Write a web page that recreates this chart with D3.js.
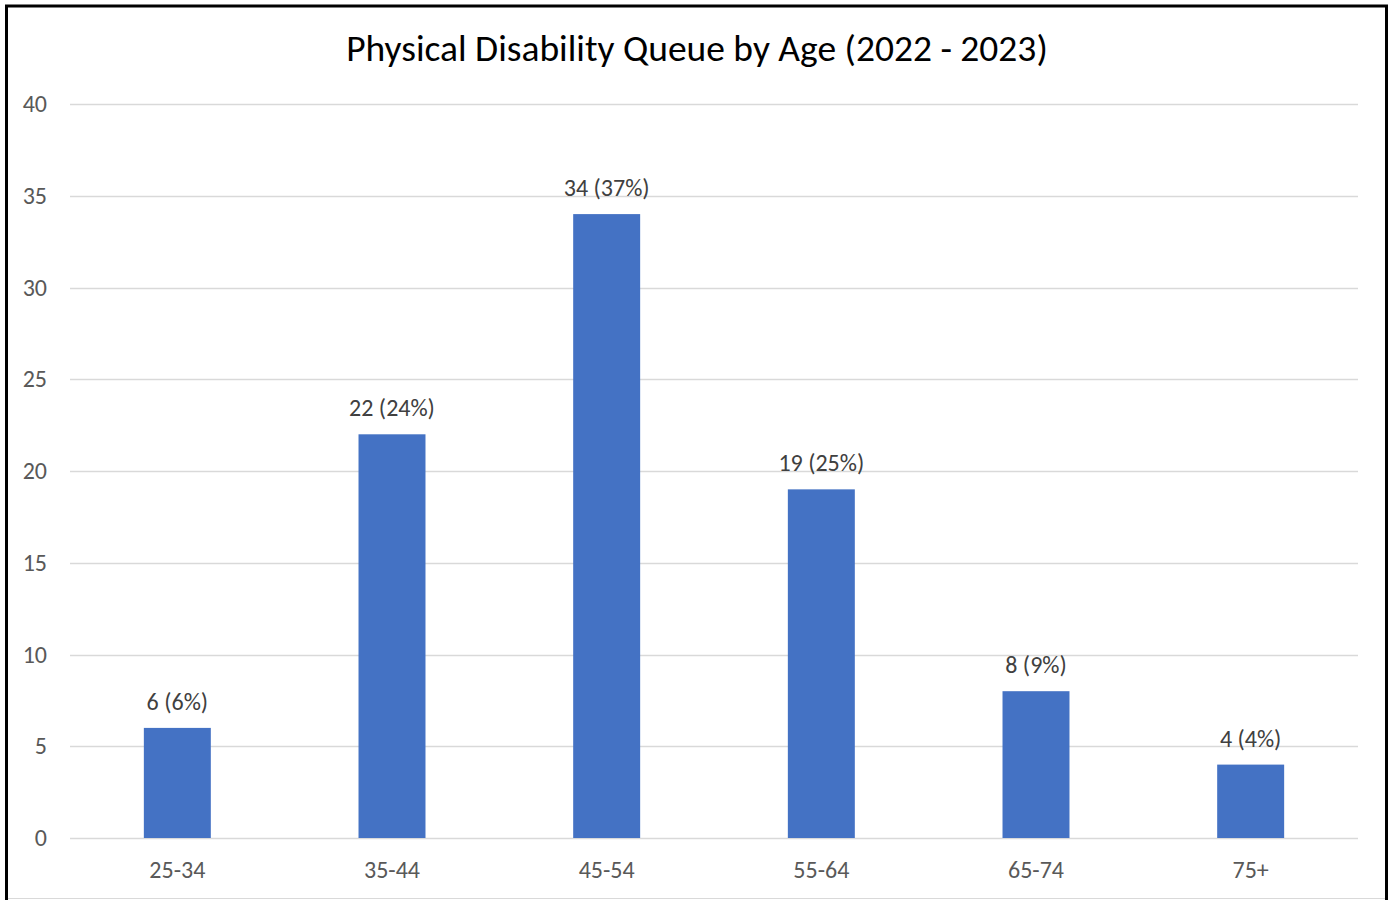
<!DOCTYPE html>
<html>
<head>
<meta charset="utf-8">
<script src="https://cdn.jsdelivr.net/npm/d3@7"></script>
<style>
html,body{margin:0;padding:0;background:#fff;}
svg{display:block;}
</style>
</head>
<body>
<svg id="chart" width="1394" height="900"></svg>
<script>
const categories = ["25-34", "35-44", "45-54", "55-64", "65-74", "75+"];
const values = [6, 22, 34, 19, 8, 4];
const percents = ["6%", "24%", "37%", "25%", "9%", "4%"];
const yTicks = [0, 5, 10, 15, 20, 25, 30, 35, 40];
const title = "Physical Disability Queue by Age (2022 - 2023)";

(function () {
const svg = d3.select("#chart");
const font = "Carlito, 'Open Sans', 'Liberation Sans', sans-serif";

// frame
svg.append("rect").attr("x", 6.5).attr("y", 6).attr("width", 1380).attr("height", 910)
  .attr("fill", "none").attr("stroke", "#000").attr("stroke-width", 3);
svg.append("line").attr("x1", 8).attr("x2", 1385).attr("y1", 898.5).attr("y2", 898.5)
  .attr("stroke", "#d9d9d9").attr("stroke-width", 1);

const pLeft = 70, pRight = 1358, pTop = 104, pBottom = 838;
const x = d3.scaleBand().domain(categories).range([pLeft, pRight]).paddingInner(0.688).paddingOuter(0.344);
const y = d3.scaleLinear().domain([0, 40]).range([pBottom, pTop]);

// gridlines
svg.append("g").selectAll("line").data(yTicks).join("line")
  .attr("x1", pLeft).attr("x2", pRight)
  .attr("y1", d => Math.round(y(d)) + 0.5).attr("y2", d => Math.round(y(d)) + 0.5)
  .attr("stroke", "#d9d9d9").attr("stroke-width", 1.5);

// y axis labels
const yAxis = d3.axisLeft(y).tickValues(yTicks).tickSize(0).tickPadding(0);
const gy = svg.append("g").attr("transform", `translate(47,0)`).call(yAxis);
gy.select(".domain").remove();
gy.selectAll("text").attr("font-family", font).attr("font-size", 24).attr("fill", "#595959");

// x axis labels
const xAxis = d3.axisBottom(x).tickSize(0).tickPadding(23);
const gx = svg.append("g").attr("transform", `translate(0,${pBottom})`).call(xAxis);
gx.select(".domain").remove();
gx.selectAll("text").attr("font-family", font).attr("font-size", 24).attr("fill", "#595959");

// bars
svg.append("g").selectAll("rect").data(categories).join("rect")
  .attr("x", d => x(d))
  .attr("width", x.bandwidth())
  .attr("y", (d, i) => y(values[i]))
  .attr("height", (d, i) => y(0) - y(values[i]))
  .attr("fill", "#4472C4");

// data labels
svg.append("g").selectAll("text").data(categories).join("text")
  .attr("x", d => x(d) + x.bandwidth() / 2)
  .attr("y", (d, i) => y(values[i]) - 18)
  .attr("text-anchor", "middle")
  .attr("font-family", font).attr("font-size", 24).attr("fill", "#404040")
  .text((d, i) => `${values[i]} (${percents[i]})`);

// title
svg.append("text").attr("x", 697).attr("y", 61).attr("text-anchor", "middle")
  .attr("font-family", font).attr("font-size", 37.5).attr("fill", "#000")
  .text(title);
})();
</script>
</body>
</html>
